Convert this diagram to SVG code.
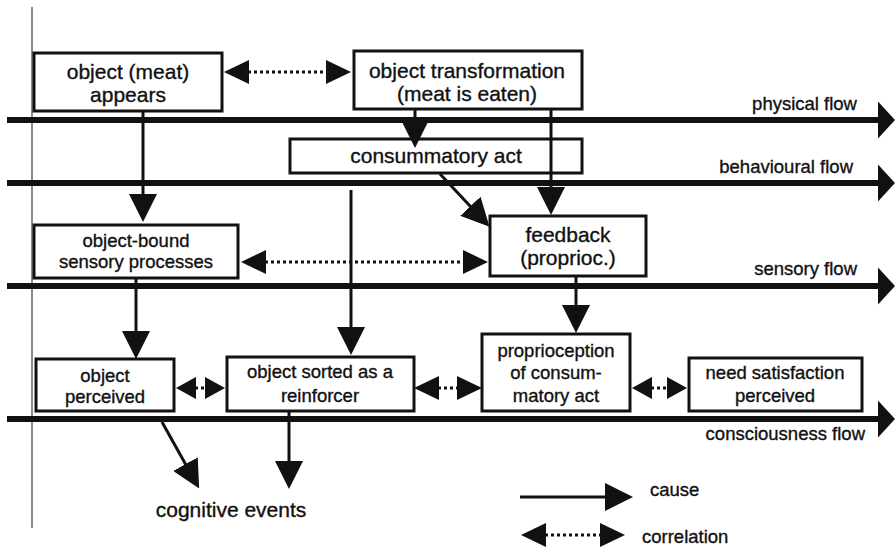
<svg xmlns="http://www.w3.org/2000/svg" width="895" height="548" viewBox="0 0 895 548">
<style>
.flow{stroke:#111;stroke-width:6;fill:none}
.box{fill:#fff;stroke:#111;stroke-width:3}
.cause{stroke:#111;stroke-width:3;fill:none}
.corr{stroke:#111;stroke-width:3;fill:none;stroke-dasharray:3 3}
text{font-family:"Liberation Sans",Arial,sans-serif;fill:#111;stroke:#111;stroke-width:0.35}
.big{font-size:21px;text-anchor:middle}
.sm{font-size:18.5px;text-anchor:middle}
.lbl{font-size:18.5px;text-anchor:end}
.leg{font-size:18.5px}
</style>
<defs>
<marker id="flowHead" markerUnits="userSpaceOnUse" markerWidth="17" markerHeight="37" viewBox="0 0 17 37" refX="1" refY="18.5" orient="auto"><path d="M0,0L17,18.5L0,37z" fill="#111"/></marker>
<marker id="causeHead" markerUnits="userSpaceOnUse" markerWidth="28" markerHeight="28" viewBox="0 0 28 28" refX="1" refY="14" orient="auto"><path d="M0,0L28,14L0,28z" fill="#111"/></marker>
<marker id="corrL" markerUnits="userSpaceOnUse" markerWidth="25" markerHeight="24" viewBox="0 0 25 24" refX="1" refY="12" orient="auto-start-reverse"><path d="M0,0L25,12L0,24z" fill="#111"/></marker>
<marker id="corrS" markerUnits="userSpaceOnUse" markerWidth="20" markerHeight="22" viewBox="0 0 20 22" refX="1" refY="11" orient="auto-start-reverse"><path d="M0,0L20,11L0,22z" fill="#111"/></marker>
</defs>

<line x1="32" y1="7" x2="32" y2="528" stroke="#666" stroke-width="1.5"/>

<g id="flows">
<line class="flow" x1="7" y1="120" x2="879" y2="120" marker-end="url(#flowHead)"/>
<text class="lbl" x="857" y="110">physical flow</text>
<line class="flow" x1="7" y1="183" x2="879" y2="183" marker-end="url(#flowHead)"/>
<text class="lbl" x="853" y="173">behavioural flow</text>
<line class="flow" x1="7" y1="286" x2="879" y2="286" marker-end="url(#flowHead)"/>
<text class="lbl" x="857" y="275">sensory flow</text>
<line class="flow" x1="7" y1="419" x2="879" y2="419" marker-end="url(#flowHead)"/>
<text class="lbl" x="865" y="440">consciousness flow</text>
</g>

<g id="n-object-appears">
<rect class="box" x="34" y="53" width="188" height="58"/>
<text class="big" x="128" y="79">object (meat)</text>
<text class="big" x="128" y="102">appears</text>
</g>
<g id="n-object-transformation">
<rect class="box" x="354" y="51" width="228" height="58"/>
<text class="big" x="467" y="78">object transformation</text>
<text class="big" x="467" y="101">(meat is eaten)</text>
</g>
<g id="n-consummatory-act">
<rect class="box" x="290" y="139" width="292" height="34"/>
<text class="big" x="436" y="163">consummatory act</text>
</g>
<g id="n-feedback">
<rect class="box" x="490" y="216" width="156" height="60"/>
<text class="big" x="568" y="242">feedback</text>
<text class="big" x="568" y="265">(proprioc.)</text>
</g>
<g id="n-object-bound">
<rect class="box" x="34" y="225" width="204" height="53"/>
<text class="sm" x="136" y="247">object-bound</text>
<text class="sm" x="136" y="268">sensory processes</text>
</g>
<g id="n-object-perceived">
<rect class="box" x="36" y="359" width="138" height="52"/>
<text class="sm" x="105" y="382">object</text>
<text class="sm" x="105" y="403">perceived</text>
</g>
<g id="n-object-sorted">
<rect class="box" x="227" y="357" width="187" height="54"/>
<text class="sm" x="320" y="378">object sorted as a</text>
<text class="sm" x="320" y="402">reinforcer</text>
</g>
<g id="n-proprioception">
<rect class="box" x="482" y="334" width="148" height="77"/>
<text class="sm" x="556" y="357">proprioception</text>
<text class="sm" x="556" y="379">of consum-</text>
<text class="sm" x="556" y="402">matory act</text>
</g>
<g id="n-need-satisfaction">
<rect class="box" x="689" y="358" width="173" height="53"/>
<text class="sm" x="775" y="379">need satisfaction</text>
<text class="sm" x="775" y="402">perceived</text>
</g>
<g id="n-cognitive-events">
<text class="big" x="231" y="517">cognitive events</text>
</g>

<g id="connectors">
<line class="cause" x1="143" y1="112" x2="143" y2="195" marker-end="url(#causeHead)"/>
<line class="cause" x1="415" y1="110" x2="415" y2="121" marker-end="url(#causeHead)"/>
<line class="cause" x1="551" y1="110" x2="551" y2="188" marker-end="url(#causeHead)"/>
<line class="cause" x1="440" y1="174" x2="471" y2="207" marker-end="url(#causeHead)"/>
<line class="cause" x1="351" y1="190" x2="351" y2="328" marker-end="url(#causeHead)"/>
<line class="cause" x1="136" y1="279" x2="136" y2="332" marker-end="url(#causeHead)"/>
<line class="cause" x1="576" y1="277" x2="576" y2="306" marker-end="url(#causeHead)"/>
<line class="cause" x1="162" y1="422" x2="186" y2="465" marker-end="url(#causeHead)"/>
<line class="cause" x1="289" y1="412" x2="289" y2="462" marker-end="url(#causeHead)"/>

<line class="corr" x1="248" y1="72" x2="327" y2="72" marker-start="url(#corrL)" marker-end="url(#corrL)"/>
<line class="corr" x1="265" y1="262" x2="464" y2="262" marker-start="url(#corrL)" marker-end="url(#corrL)"/>
<line class="corr" x1="195" y1="388" x2="206" y2="388" marker-start="url(#corrS)" marker-end="url(#corrS)"/>
<line class="corr" x1="438" y1="388" x2="458" y2="388" marker-start="url(#corrL)" marker-end="url(#corrL)"/>
<line class="corr" x1="651" y1="388" x2="668" y2="388" marker-start="url(#corrS)" marker-end="url(#corrS)"/>
</g>

<g id="legend">
<line class="cause" x1="520" y1="497" x2="606" y2="497" marker-end="url(#causeHead)"/>
<text class="leg" x="650" y="496">cause</text>
<line class="corr" x1="545" y1="535" x2="601" y2="535" marker-start="url(#corrL)" marker-end="url(#corrL)"/>
<text class="leg" x="642" y="543">correlation</text>
</g>
</svg>
